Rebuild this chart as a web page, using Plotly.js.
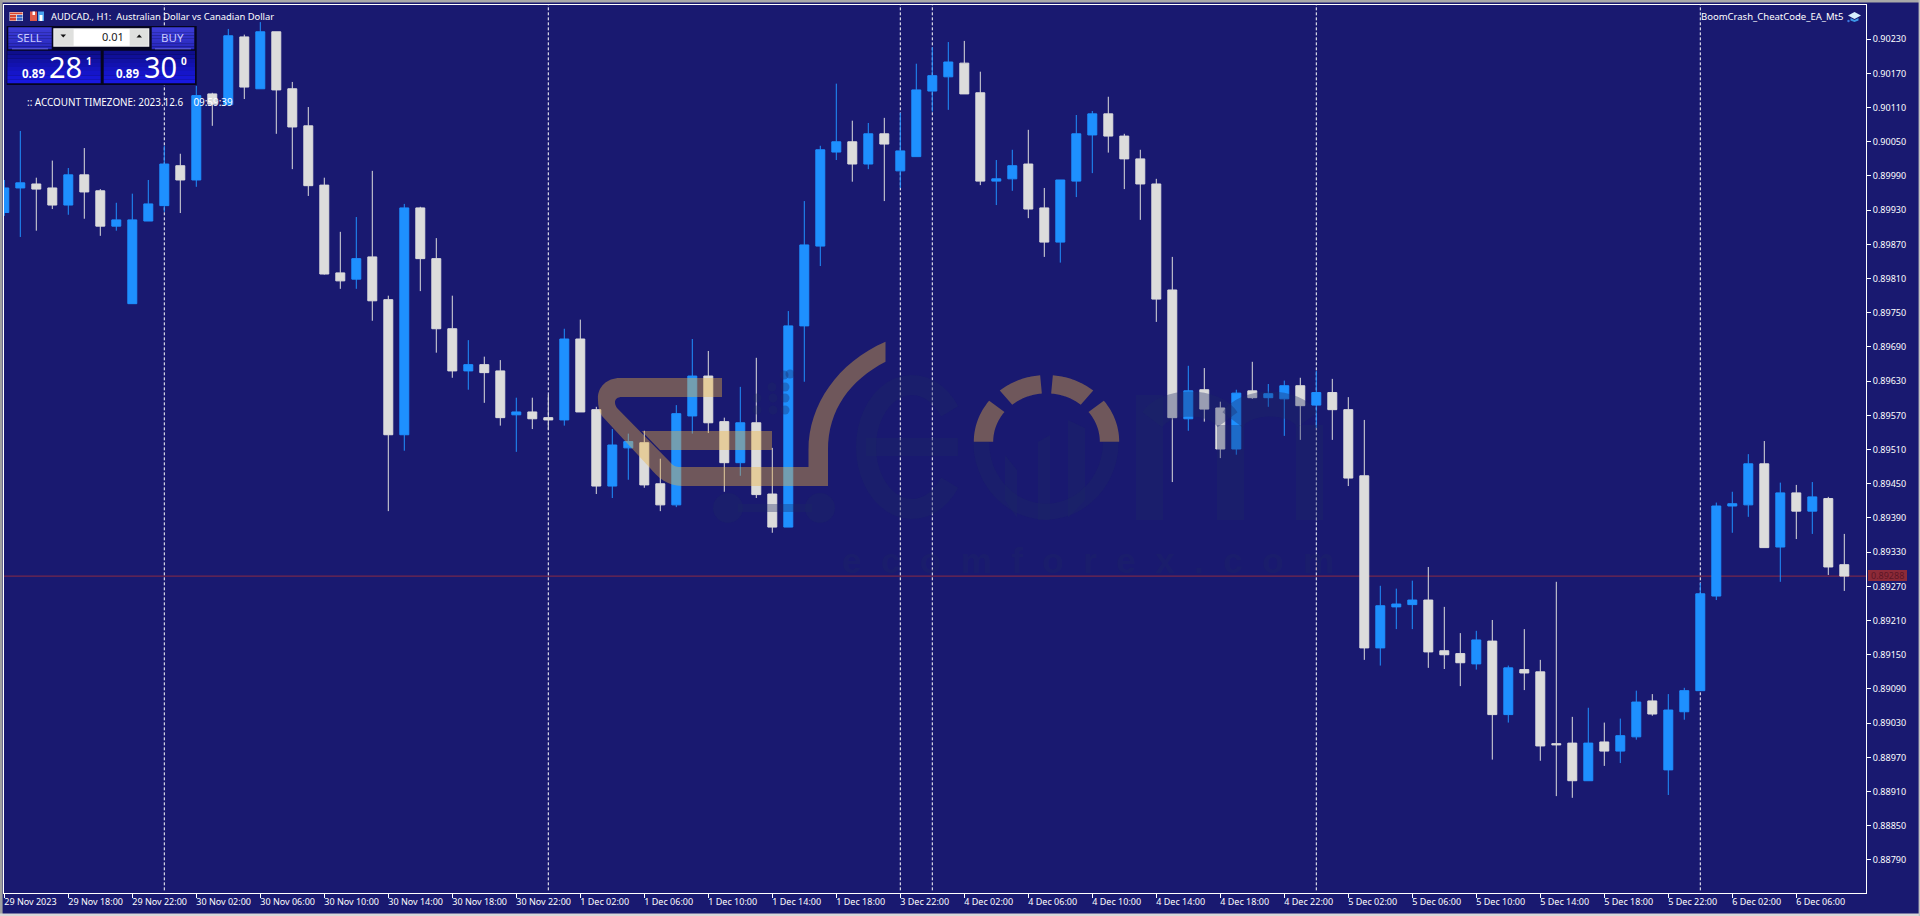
<!DOCTYPE html>
<html><head><meta charset="utf-8">
<script src="https://cdn.plot.ly/plotly-3.0.1.min.js"></script>
<style>html,body{margin:0;padding:0;background:#191970;overflow:hidden}#c{width:1920px;height:916px}</style>
</head><body><div id="c"></div>
<script>
const openPrices=[.89926,.89969,.89976,.89969,.89939,.89992,.89964,.89902,.89766,.89911,.89938,.90008,.89983,.90134,.90115,.90234,.90143,.90243,.90143,.90078,.89974,.89820,.89809,.89848,.89773,.89536,.89934,.89845,.89722,.89648,.89659,.89648,.89571,.89576,.89566,.89562,.89704,.89580,.89446,.89513,.89522,.89450,.89413,.89569,.89639,.89559,.89487,.89557,.89432,.89374,.89727,.89867,.90032,.90050,.90011,.90064,.89999,.90024,.90139,.90164,.90188,.90136,.89981,.89985,.90011,.89934,.89874,.89981,.90062,.90099,.90060,.90020,.89976,.89790,.89564,.89615,.89583,.89511,.89613,.89601,.89599,.89622,.89588,.89610,.89580,.89464,.89162,.89234,.89238,.89246,.89157,.89152,.89134,.89174,.89045,.89124,.89120,.88994,.88995,.88929,.88997,.88981,.89006,.89069,.88948,.89050,.89087,.89253,.89411,.89413,.89485,.89339,.89434,.89402,.89424,.89308];
const highPrices=[.89983,.90069,.89987,.90017,.90004,.90039,.89967,.89943,.89959,.89983,.90043,.90029,.90148,.90136,.90248,.90238,.90260,.90243,.90155,.90111,.89987,.89892,.89918,.89999,.89780,.89941,.89936,.89881,.89780,.89702,.89673,.89667,.89601,.89601,.89606,.89722,.89738,.89585,.89546,.89538,.89543,.89494,.89588,.89704,.89683,.89566,.89620,.89671,.89513,.89753,.89946,.90043,.90152,.90087,.90083,.90092,.90101,.90187,.90216,.90225,.90227,.90173,.90018,.90036,.90071,.89969,.89983,.90097,.90104,.90129,.90064,.90036,.89985,.89848,.89657,.89653,.89594,.89615,.89664,.89625,.89631,.89636,.89648,.89634,.89602,.89562,.89271,.89266,.89280,.89304,.89234,.89188,.89192,.89211,.89131,.89195,.89141,.89278,.89041,.89057,.89031,.89038,.89087,.89081,.89081,.89092,.89276,.89417,.89436,.89502,.89525,.89452,.89448,.89453,.89427,.89362];
const lowPrices=[.89920,.89883,.89894,.89932,.89922,.89915,.89885,.89894,.89766,.89911,.89927,.89925,.89971,.90078,.90115,.90125,.90143,.90064,.90002,.89955,.89817,.89792,.89792,.89736,.89402,.89508,.89788,.89680,.89636,.89615,.89592,.89552,.89506,.89546,.89545,.89552,.89576,.89432,.89425,.89457,.89443,.89402,.89409,.89538,.89539,.89436,.89464,.89425,.89364,.89374,.89629,.89832,.90018,.89980,.90002,.89946,.89969,.90024,.90103,.90106,.90134,.89974,.89939,.89964,.89916,.89848,.89838,.89953,.89995,.90031,.89967,.89913,.89734,.89453,.89543,.89559,.89495,.89501,.89599,.89585,.89534,.89527,.89548,.89527,.89446,.89141,.89131,.89195,.89195,.89127,.89125,.89095,.89124,.88966,.89031,.89088,.88964,.88902,.88899,.88929,.88955,.88960,.89001,.89043,.88904,.89036,.89087,.89246,.89364,.89392,.89338,.89278,.89353,.89362,.89290,.89262];
const closePrices=[.89969,.89978,.89967,.89939,.89992,.89962,.89902,.89913,.89913,.89941,.90011,.89983,.90131,.90116,.90236,.90146,.90243,.90141,.90076,.89973,.89818,.89806,.89845,.89771,.89536,.89934,.89845,.89722,.89648,.89659,.89645,.89566,.89576,.89564,.89562,.89704,.89576,.89446,.89518,.89524,.89448,.89413,.89573,.89639,.89557,.89487,.89557,.89431,.89374,.89727,.89869,.90036,.90050,.90011,.90064,.90046,.90034,.90141,.90166,.90190,.90134,.89981,.89985,.90008,.89932,.89874,.89983,.90064,.90099,.90060,.90020,.89976,.89774,.89566,.89613,.89581,.89511,.89609,.89601,.89608,.89622,.89587,.89610,.89580,.89460,.89162,.89236,.89239,.89246,.89155,.89150,.89136,.89176,.89045,.89127,.89118,.88990,.88992,.88929,.88995,.88981,.89008,.89067,.89046,.89053,.89087,.89257,.89411,.89415,.89485,.89338,.89434,.89402,.89427,.89304,.89288];
const candleIndex=openPrices.map((_,i)=>i);
const timeTickIndex=[0,4,8,12,16,20,24,28,32,36,40,44,48,52,56,60,64,68,72,76,80,84,88,92,96,100,104,108,112];
const timeTickLabels=["29 Nov 2023","29 Nov 18:00","29 Nov 22:00","30 Nov 02:00","30 Nov 06:00","30 Nov 10:00","30 Nov 14:00","30 Nov 18:00","30 Nov 22:00","1 Dec 02:00","1 Dec 06:00","1 Dec 10:00","1 Dec 14:00","1 Dec 18:00","3 Dec 22:00","4 Dec 02:00","4 Dec 06:00","4 Dec 10:00","4 Dec 14:00","4 Dec 18:00","4 Dec 22:00","5 Dec 02:00","5 Dec 06:00","5 Dec 10:00","5 Dec 14:00","5 Dec 18:00","5 Dec 22:00","6 Dec 02:00","6 Dec 06:00"];
const priceTicks=[.90230,.90170,.90110,.90050,.89990,.89930,.89870,.89810,.89750,.89690,.89630,.89570,.89510,.89450,.89390,.89330,.89270,.89210,.89150,.89090,.89030,.88970,.88910,.88850,.88790];
const periodSeparators=[10,34,56,58,82,106];
const currentPrice=0.89288;
const BG='#191970',FONT='"Noto Sans"';

// pixel -> paper helpers for the on-chart furniture (not data)
const PW=1862,PH=888;
const X=p=>(p-4)/PW, Y=p=>1-(p-5)/PH;
const shapes=[];
function poly(pts,fill,close=true,stroke=null,w=0,layer='above'){
  const d=pts.map((q,i)=>(i?'L':'M')+X(q[0]).toFixed(6)+','+Y(q[1]).toFixed(6)).join(' ')+(close?' Z':'');
  shapes.push({type:'path',xref:'paper',yref:'paper',path:d,fillcolor:fill||'rgba(0,0,0,0)',line:{color:stroke||'rgba(0,0,0,0)',width:w},layer});
}
function rect(x0,y0,x1,y1,fill){shapes.push({type:'rect',xref:'paper',yref:'paper',x0:X(x0),x1:X(x1),y0:Y(y0),y1:Y(y1),fillcolor:fill,line:{width:0},layer:'above'});}
function circle(cx,cy,r,fill){shapes.push({type:'circle',xref:'paper',yref:'paper',x0:X(cx-r),x1:X(cx+r),y0:Y(cy-r),y1:Y(cy+r),fillcolor:fill,line:{width:0},layer:'above'});}
function arcPts(cx,cy,rx,ry,a0,a1,n=24){const o=[];for(let i=0;i<=n;i++){const a=(a0+(a1-a0)*i/n)*Math.PI/180;o.push([cx+rx*Math.cos(a),cy-ry*Math.sin(a)]);}return o;}
function band(cx,cy,Rx,Ry,rx,ry,a0,a1,fill){poly(arcPts(cx,cy,Rx,Ry,a0,a1).concat(arcPts(cx,cy,rx,ry,a1,a0)),fill);}
function grad(x0,y0,x1,y1,c0,c1,n=8){for(let i=0;i<n;i++){const t=i/(n-1),c=c0.map((v,j)=>Math.round(v+(c1[j]-v)*t));rect(x0,y0+(y1-y0)*i/n,x1,y0+(y1-y0)*(i+1)/n,`rgb(${c})`);}}

// current-price line and period separators sit under the candles
shapes.push({type:'line',xref:'paper',yref:'y',x0:0,x1:1,y0:currentPrice,y1:currentPrice,line:{color:'#8c2a44',width:1},layer:'below'});
periodSeparators.forEach(k=>shapes.push({type:'line',xref:'x',yref:'paper',x0:k,x1:k,y0:0.003,y1:1,line:{color:'#ffffff',width:1,dash:'3px,2px'},layer:'below'}));

// watermark: faint word mark
const FAINT='rgba(30,40,100,0.35)',TAN='rgba(240,180,60,0.40)';
poly(arcPts(912,447,46,62,35,325,36),null,false,FAINT,20);
poly([[866,447],[958,447]],null,false,FAINT,18);
band(1046,441.7,72.7,78,57,62,180,360,FAINT);
poly([[1005,455],[1017,470],[1017,518],[1005,500]],FAINT);
poly([[1038,442],[1050,435],[1050,520],[1038,520]],FAINT);
poly([[1068,420],[1085,428],[1085,500],[1068,518]],FAINT);
rect(1136,395,1163,520,FAINT);rect(1217,425,1244,520,FAINT);rect(1296,425,1323,520,FAINT);
poly(arcPts(1190,428,40,24,160,20,16),null,false,FAINT,25);
poly(arcPts(1270,428,40,24,160,20,16),null,false,FAINT,25);
circle(728,508,15,FAINT);circle(820,508,15,FAINT);rect(738,504,812,512,FAINT);
[[784,375],[772,387],[785,387],[757,398],[773,398],[785,398],[757,410],[773,410],[785,410],[790,374]].forEach(p=>circle(p[0],p[1],4.5,FAINT));

// watermark: tan cart and dial
const cartOutline=[['M',722,378],['L',620,378],['C',606,378,597,388,598,400],['C',598,406,599,411,602,416],['L',650,468],['C',657,477,668,486,682,486],['L',828,486],['L',828,450],['C',828,410,850,380,885.5,361.7],['L',885.5,341.7],['C',838,362,808.5,405,808.5,450],['L',808.5,467],['L',680,467],['C',676,467,673,466,670,462],['L',617,408],['C',613,402,615,397,622,397],['L',722,397]];
const cartPath=cartOutline.map(s=>{let o=s[0];for(let i=1;i<s.length;i+=2){o+=(i>1?' ':'')+X(s[i]).toFixed(6)+','+Y(s[i+1]).toFixed(6);}return o;}).join(' ')+' Z';
shapes.push({type:'path',xref:'paper',yref:'paper',path:cartPath,fillcolor:TAN,line:{width:0,color:'rgba(0,0,0,0)'},layer:'above'});
poly([[641.5,431],[772,431],[772,450],[660,450]],TAN);
band(1046.5,441.7,72.7,66.7,53.3,48.3,180,142,TAN);
band(1046.5,441.7,72.7,66.7,53.3,48.3,130,95,TAN);
band(1046.5,441.7,72.7,66.7,53.3,48.3,85,50,TAN);
band(1046.5,441.7,72.7,66.7,53.3,48.3,38,0,TAN);

// one-click trading panel
rect(6.7,26,196.7,85,'#05051e');
grad(8.3,27.3,51.7,49.3,[60,60,215],[40,40,190]);
grad(151.7,27.3,194.3,49.3,[60,60,215],[40,40,190]);
rect(12,48.4,48,49.2,'#7a7ae6');rect(155,48.4,191,49.2,'#7a7ae6');
rect(53.3,28.3,149.3,46.7,'#f0f0f0');
rect(54.3,29.3,73.3,45.7,'#dfe0de');rect(74,29.3,129.3,45.7,'#ffffff');rect(130,29.3,148.3,45.7,'#dfe0de');
poly([[60.5,34.5],[66,34.5],[63.3,37.5]],'#111');poly([[136.5,37.5],[142,37.5],[139.2,34.5]],'#111');
grad(7.3,50.7,100.7,83.3,[14,14,140],[24,24,225]);
grad(103.7,50.7,195,83.3,[14,14,140],[24,24,225]);

// header icons
rect(9.5,12,23,21,'#f0f0f0');rect(10,12.5,22.5,14.3,'#d8452e');rect(10,15,16,17.5,'#d8452e');rect(16.8,15,22.5,17.5,'#3a66c8');rect(10,18,16,20.5,'#d8452e');rect(16.8,18,22.5,20.5,'#3a66c8');
rect(30,11.5,37,21,'#e05a48');rect(38,11.5,44,21,'#4aa3ee');rect(32.5,11.5,35,15,'#ffffff');rect(39.5,15,42.5,21,'#ffffff');
// cap icon
poly([[1848,15.5],[1854.5,12],[1861,15.5],[1854.5,19]],'#d8f0ff');poly([[1850.5,18],[1854.5,20],[1858.5,18],[1858.5,20.5],[1854.5,22],[1850.5,20.5]],'#3c96e6');circle(1848.5,21,1.2,'#3c78e0');

// price box
rect(1868,570,1907,581,'#8c2a38');
// window frame
rect(0,0,1920,2.4,'#a9a9a9');rect(0,0,2.6,916,'#a0a0a0');rect(0,913.6,1920,916,'#d8d8d8');rect(1918.6,0,1920,916,'#c0c0c0');

function ann(text,px,py,size,color,anchor='left',family=FONT,extra={}){return Object.assign({text,xref:'paper',yref:'paper',x:X(px),y:Y(py),xanchor:anchor,yanchor:'middle',showarrow:false,font:{family,size,color},borderpad:0,borderwidth:0},extra);}
const annotations=[
 ann('AUDCAD., H1:  Australian Dollar vs Canadian Dollar',50.7,16.7,9.4,'#ffffff'),
 ann('BoomCrash_CheatCode_EA_Mt5',1842.5,16.7,9.5,'#ffffff','right'),
 ann(':: ACCOUNT TIMEZONE: 2023.12.6&nbsp;&nbsp;&nbsp;&nbsp;09:59:39',27.3,102.3,9.9,'#ffffff'),
 ann('SELL',29,37.5,11.5,'#c8c8ff','center'),
 ann('BUY',172,37.5,11.5,'#c8c8ff','center'),
 ann('0.01',124.5,36.8,11,'#202020','right'),
 ann('<b>0.89</b>',33,73.5,11.5,'#ffffff','center'),
 ann('28',65.5,67,29,'#ffffff','center'),
 ann('<b>1</b>',88.5,61,10,'#ffffff','center'),
 ann('<b>0.89</b>',127,73.5,11.5,'#ffffff','center'),
 ann('30',160,67,29,'#ffffff','center'),
 ann('<b>0</b>',183.5,61,10,'#ffffff','center'),
 ann('0.89288',1870.5,575.8,9,'#5c1626'),
 ann('<b>e&nbsp;&nbsp;c&nbsp;&nbsp;o&nbsp;&nbsp;m&nbsp;&nbsp;f&nbsp;&nbsp;o&nbsp;&nbsp;r&nbsp;&nbsp;e&nbsp;&nbsp;x&nbsp;&nbsp;.&nbsp;&nbsp;c&nbsp;&nbsp;o&nbsp;&nbsp;m</b>',1087.5,560,35,'rgba(30,40,100,0.32)','center','"Liberation Sans"')
];

const trace={type:'candlestick',x:candleIndex,open:openPrices,high:highPrices,low:lowPrices,close:closePrices,
 increasing:{line:{color:'#1e90ff',width:1},fillcolor:'#1e90ff'},
 decreasing:{line:{color:'#dcdcdc',width:1},fillcolor:'#dcdcdc'},
 whiskerwidth:0,hoverinfo:'skip',showlegend:false};

const layout={width:1920,height:916,paper_bgcolor:BG,plot_bgcolor:BG,showlegend:false,dragmode:false,boxgap:0.2,
 margin:{l:4,r:54,t:5,b:23,pad:0},
 xaxis:{type:'linear',range:[-0.019,116.356],tickmode:'array',tickvals:timeTickIndex,ticktext:timeTickLabels,
  ticks:'outside',ticklen:4,tickwidth:1,tickcolor:'#ffffff',ticklabelposition:'outside right',ticklabelshift:-1,
  tickfont:{family:FONT,size:9,color:'#ffffff'},showgrid:false,zeroline:false,showline:true,linecolor:'#ffffff',linewidth:1,mirror:true,rangeslider:{visible:false},fixedrange:true,tickangle:0},
 yaxis:{type:'linear',side:'right',range:[0.88732,0.90290],tickmode:'array',tickvals:priceTicks,ticktext:priceTicks.map(v=>v.toFixed(5)),
  ticks:'outside',ticklen:4,tickwidth:1,tickcolor:'#ffffff',tickfont:{family:FONT,size:9,color:'#ffffff'},
  showgrid:false,zeroline:false,showline:true,linecolor:'#ffffff',linewidth:1,mirror:true,fixedrange:true},
 shapes,annotations};
Plotly.newPlot('c',[trace],layout,{displayModeBar:false,staticPlot:true,responsive:false});
</script></body></html>
